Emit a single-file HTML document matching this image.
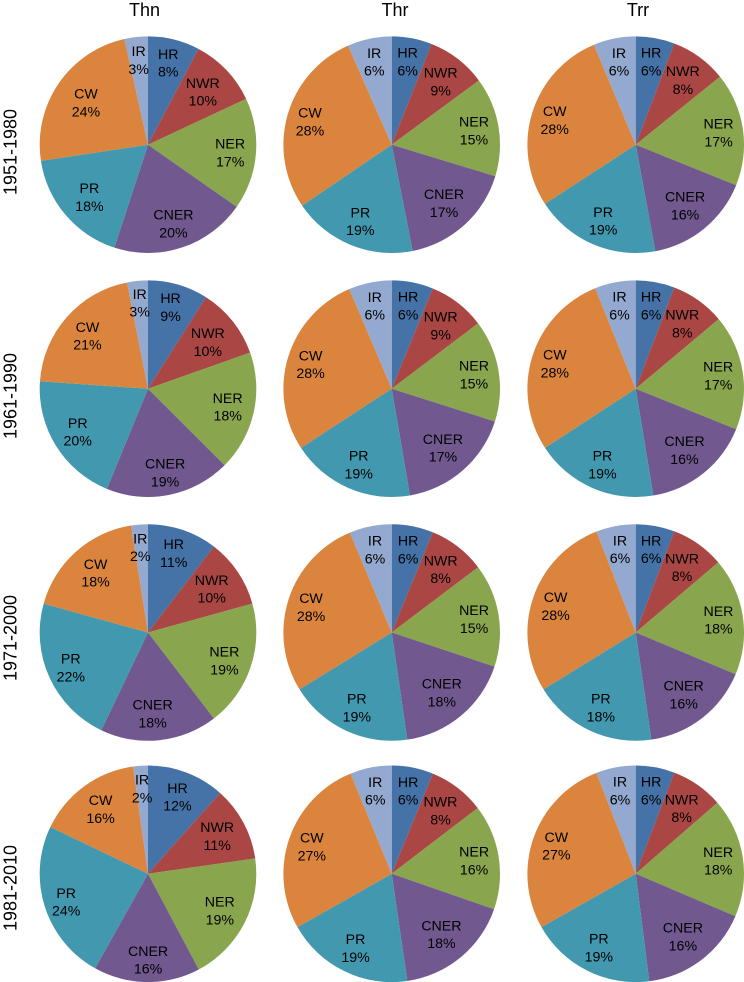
<!DOCTYPE html>
<html lang="en">
<head>
<meta charset="utf-8">
<title>Pie charts of regional shares: Thn, Thr, Trr</title>
<style>
  html, body { margin: 0; padding: 0; background: #ffffff; }
  body { width: 744px; height: 982px; overflow: hidden; }
  svg { display: block; font-family: "Liberation Sans", Arial, sans-serif; fill: #000000; }
</style>
</head>
<body>
<svg id="chart" xmlns="http://www.w3.org/2000/svg" width="744" height="982" viewBox="0 0 744 982"></svg>
<script>
const categories = ['HR', 'NWR', 'NER', 'CNER', 'PR', 'CW', 'IR'];
const variables = ['Thn', 'Thr', 'Trr'];
const periods = ['1951-1980', '1961-1990', '1971-2000', '1981-2010'];

const thn1951 = [7.7, 10.35, 16.7, 20.3, 17.6, 23.9, 3.5];
const thn1961 = [9.0, 10.6, 17.9, 18.7, 19.9, 20.8, 3.1];
const thn1971 = [10.4, 10.3, 18.9, 17.5, 22.2, 18.2, 2.5];
const thn1981 = [11.6, 11.15, 19.5, 15.9, 24.0, 15.7, 2.2];

const thr1951 = [6.0, 8.9, 14.8, 17.2, 18.6, 27.9, 6.6];
const thr1961 = [6.2, 8.5, 15.2, 17.4, 18.5, 27.8, 6.4];
const thr1971 = [6.2, 8.5, 15.4, 17.6, 18.5, 27.5, 6.3];
const thr1981 = [6.2, 8.4, 15.7, 17.4, 19.1, 27.0, 6.2];

const trr1951 = [5.8, 8.4, 16.9, 16.0, 18.7, 27.9, 6.3];
const trr1961 = [5.8, 8.1, 17.2, 16.3, 18.4, 28.1, 6.1];
const trr1971 = [5.8, 8.0, 17.5, 16.4, 18.5, 27.9, 5.9];
const trr1981 = [5.8, 7.8, 17.8, 16.6, 18.8, 27.3, 5.9];

const thn1951Printed = [8, 10, 17, 20, 18, 24, 3];
const thn1961Printed = [9, 10, 18, 19, 20, 21, 3];
const thn1971Printed = [11, 10, 19, 18, 22, 18, 2];
const thn1981Printed = [12, 11, 19, 16, 24, 16, 2];

const thr1951Printed = [6, 9, 15, 17, 19, 28, 6];
const thr1961Printed = [6, 9, 15, 17, 19, 28, 6];
const thr1971Printed = [6, 8, 15, 18, 19, 28, 6];
const thr1981Printed = [6, 8, 16, 18, 19, 27, 6];

const trr1951Printed = [6, 8, 17, 16, 19, 28, 6];
const trr1961Printed = [6, 8, 17, 16, 19, 28, 6];
const trr1971Printed = [6, 8, 18, 16, 18, 28, 6];
const trr1981Printed = [6, 8, 18, 16, 19, 27, 6];

const panelValues = [
  [thn1951, thr1951, trr1951],
  [thn1961, thr1961, trr1961],
  [thn1971, thr1971, trr1971],
  [thn1981, thr1981, trr1981]
];
const panelPrinted = [
  [thn1951Printed, thr1951Printed, trr1951Printed],
  [thn1961Printed, thr1961Printed, trr1961Printed],
  [thn1971Printed, thr1971Printed, trr1971Printed],
  [thn1981Printed, thr1981Printed, trr1981Printed]
];

const sliceColors = ['#4572A7', '#AA4643', '#89A54E', '#71588F', '#4198AF', '#DB843D', '#93A9CF'];
const columnCenters = [148, 391.7, 635.7];
const rowCenters = [144.7, 388.7, 632.5, 873.8];
const rowLabelCenters = [152, 396, 638, 888];
const titleCenters = [144.5, 395, 638];
const pieRadius = 108.3;
const labelFont = 14.2;
const labelLineGap = 17.8;
const labelHalfHeight = 17;
const labelReach = 104;
const labelDrop = -3.6;

/* Layout only: hand-placed label offsets of the first column, by period then category. */
const firstColumnLabelShift = [
  [[0, 0], [-3, 2], [-4, 0], [0, 2], [4, -1], [6, 4], [0, 0]],
  [[-1, -1], [-3, 3], [-3, -1], [1, 3], [0, -1], [1, 1], [0, -1]],
  [[-1, -1], [-3, 1], [-3, 1], [-4, -2], [-1, 0], [2, 1], [-1, 0]],
  [[0, 0], [-2, 0], [-2, -1], [1, 1], [-1, 2], [1, 1], [0, 0]]
];
const otherColumnsNerShiftX = -2;

const NS = 'http://www.w3.org/2000/svg';
const svg = document.getElementById('chart');
const measurer = document.createElement('canvas').getContext('2d');
measurer.font = '14px "Liberation Sans", Arial, sans-serif';

function slug(text) {
  return text.toLowerCase().replace(/[^a-z0-9]+/g, '-');
}

function angleToPoint(cx, cy, radius, angle) {
  return [cx + radius * Math.sin(angle), cy - radius * Math.cos(angle)];
}

function slicePath(cx, cy, radius, start, end) {
  const a = angleToPoint(cx, cy, radius, start);
  const b = angleToPoint(cx, cy, radius, end);
  const large = end - start > Math.PI ? 1 : 0;
  return 'M' + cx + ' ' + cy + 'L' + a[0].toFixed(2) + ' ' + a[1].toFixed(2) +
    'A' + radius + ' ' + radius + ' 0 ' + large + ' 1 ' + b[0].toFixed(2) + ' ' + b[1].toFixed(2) + 'Z';
}

/* Inside-end placement: push the label box out along the slice bisector until a corner meets the reach circle. */
function labelDistance(angle, halfWidth) {
  const ux = Math.abs(Math.sin(angle));
  const uy = Math.abs(Math.cos(angle));
  let distance = labelReach;
  while (distance > 0) {
    const px = distance * ux + halfWidth;
    const py = distance * uy + labelHalfHeight;
    if (px * px + py * py <= labelReach * labelReach) break;
    distance -= 0.25;
  }
  return distance;
}

function labelShift(rowIndex, colIndex, sliceIndex) {
  if (colIndex === 0) return firstColumnLabelShift[rowIndex][sliceIndex];
  return [categories[sliceIndex] === 'NER' ? otherColumnsNerShiftX : 0, 0];
}

function drawPie(rowIndex, colIndex) {
  const values = panelValues[rowIndex][colIndex];
  const printed = panelPrinted[rowIndex][colIndex];
  const cx = columnCenters[colIndex];
  const cy = rowCenters[rowIndex];
  const total = values.reduce(function (sum, v) { return sum + v; }, 0);
  const panelName = slug(variables[colIndex]) + '-' + periods[rowIndex];

  const group = document.createElementNS(NS, 'g');
  
  
  svg.appendChild(group);

  let running = 0;
  values.forEach(function (value, i) {
    const start = running / total * Math.PI * 2;
    running += value;
    const end = running / total * Math.PI * 2;
    const path = document.createElementNS(NS, 'path');
    path.setAttribute('d', slicePath(cx, cy, pieRadius, start, end));
    path.setAttribute('fill', sliceColors[i]);
    
    
    group.appendChild(path);
  });

  running = 0;
  values.forEach(function (value, i) {
    const mid = (running + value / 2) / total * Math.PI * 2;
    running += value;
    const nameLine = categories[i];
    const valueLine = printed[i] + '%';
    const halfWidth = Math.max(measurer.measureText(nameLine).width, measurer.measureText(valueLine).width) / 2;
    const spot = angleToPoint(cx, cy, labelDistance(mid, halfWidth), mid);
    const shift = labelShift(rowIndex, colIndex, i);
    const x = spot[0] + shift[0];
    const y = spot[1] + shift[1] + labelDrop;

    const label = document.createElementNS(NS, 'text');
    label.setAttribute('font-size', labelFont);
    label.setAttribute('text-anchor', 'middle');
    
    

    const top = document.createElementNS(NS, 'tspan');
    top.setAttribute('x', x.toFixed(2));
    top.setAttribute('y', y.toFixed(2));
    top.textContent = nameLine;
    label.appendChild(top);

    const bottom = document.createElementNS(NS, 'tspan');
    bottom.setAttribute('x', x.toFixed(2));
    bottom.setAttribute('y', (y + labelLineGap).toFixed(2));
    bottom.textContent = valueLine;
    label.appendChild(bottom);

    group.appendChild(label);
  });
}

variables.forEach(function (name, c) {
  const title = document.createElementNS(NS, 'text');
  title.setAttribute('x', titleCenters[c]);
  title.setAttribute('y', 16);
  title.setAttribute('font-size', 18);
  title.setAttribute('text-anchor', 'middle');
  
  
  title.textContent = name;
  svg.appendChild(title);
});

periods.forEach(function (name, r) {
  const rowLabel = document.createElementNS(NS, 'text');
  rowLabel.setAttribute('transform', 'translate(16.5 ' + rowLabelCenters[r] + ') rotate(-90)');
  rowLabel.setAttribute('font-size', 18);
  rowLabel.setAttribute('text-anchor', 'middle');
  
  
  rowLabel.textContent = name;
  svg.appendChild(rowLabel);
});

periods.forEach(function (p, r) {
  variables.forEach(function (v, c) {
    drawPie(r, c);
  });
});
</script>
</body>
</html>
